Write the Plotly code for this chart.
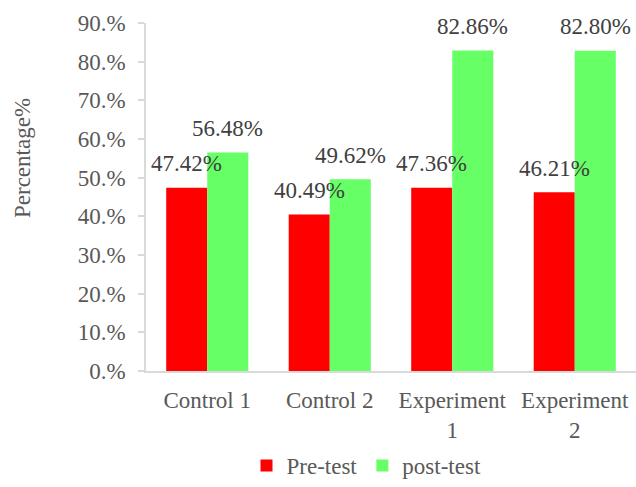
import plotly.graph_objects as go

categories = ["Control 1", "Control 2", "Experiment 1", "Experiment 2"]
category_labels = ["Control 1", "Control 2", "Experiment<br>1", "Experiment<br>2"]
pre_test = [0.4742, 0.4049, 0.4736, 0.4621]
post_test = [0.5648, 0.4962, 0.8286, 0.8280]
pre_labels = ["47.42%", "40.49%", "47.36%", "46.21%"]
post_labels = ["56.48%", "49.62%", "82.86%", "82.80%"]
y_tick_vals = [0, 0.1, 0.2, 0.3, 0.4, 0.5, 0.6, 0.7, 0.8, 0.9]
y_tick_text = ["0.%", "10.%", "20.%", "30.%", "40.%", "50.%", "60.%", "70.%", "80.%", "90.%"]

FONT = "Liberation Serif"
RED = "#ff0000"
GREEN = "#66ff66"

fig = go.Figure()
fig.add_trace(go.Bar(x=categories, y=pre_test, name="Pre-test", marker=dict(color=RED, line=dict(width=0))))
fig.add_trace(go.Bar(x=categories, y=post_test, name="post-test", marker=dict(color=GREEN, line=dict(width=0))))

W, H = 636, 487
ml, mr, mt, mb = 146, 0, 23, 116
pw, ph = W - ml - mr, H - mt - mb

annotations = []
for c, v, t in zip(categories, pre_test, pre_labels):
    annotations.append(dict(x=c, y=v, xref="x", yref="y", text=t, showarrow=False,
                            xshift=-20.5, yshift=24, yanchor="middle",
                            font=dict(family=FONT, size=23, color="#404040")))
for c, v, t in zip(categories, post_test, post_labels):
    annotations.append(dict(x=c, y=v, xref="x", yref="y", text=t, showarrow=False,
                            xshift=20.5, yshift=24, yanchor="middle",
                            font=dict(family=FONT, size=23, color="#404040")))
annotations.append(dict(x=(22 - ml) / pw, y=(H - mb - 158) / ph, xref="paper", yref="paper",
                        text="Percentage%", showarrow=False, textangle=-90,
                        xanchor="center", yanchor="middle",
                        font=dict(family=FONT, size=23, color="#595959")))

fig.update_layout(
    width=W, height=H,
    margin=dict(l=ml, r=mr, t=mt, b=mb, autoexpand=False),
    paper_bgcolor="white", plot_bgcolor="white",
    barmode="group", bargap=0.33, bargroupgap=0,
    font=dict(family=FONT, size=23, color="#595959"),
    annotations=annotations,
    legend=dict(orientation="h", x=0.45, xanchor="center",
                yref="container", y=0.0, yanchor="bottom",
                font=dict(family=FONT, size=23, color="#595959"),
                itemwidth=30, tracegroupgap=0),
    xaxis=dict(tickmode="array", tickvals=categories, ticktext=category_labels,
               showline=True, linecolor="#d9d9d9", linewidth=1.5, ticks="",
               ticklabelstandoff=8, showgrid=False, zeroline=False, automargin=False,
               tickfont=dict(family=FONT, size=23, color="#595959")),
    yaxis=dict(range=[0, 0.9], tickmode="array", tickvals=y_tick_vals, ticktext=y_tick_text,
               showline=True, linecolor="#d9d9d9", linewidth=1.5, ticks="outside",
               ticklen=6, tickcolor="#d9d9d9", tickwidth=1.5, ticklabelstandoff=8,
               showgrid=False, zeroline=False, automargin=False,
               tickfont=dict(family=FONT, size=23, color="#595959")),
)

fig.write_html("out.html")
